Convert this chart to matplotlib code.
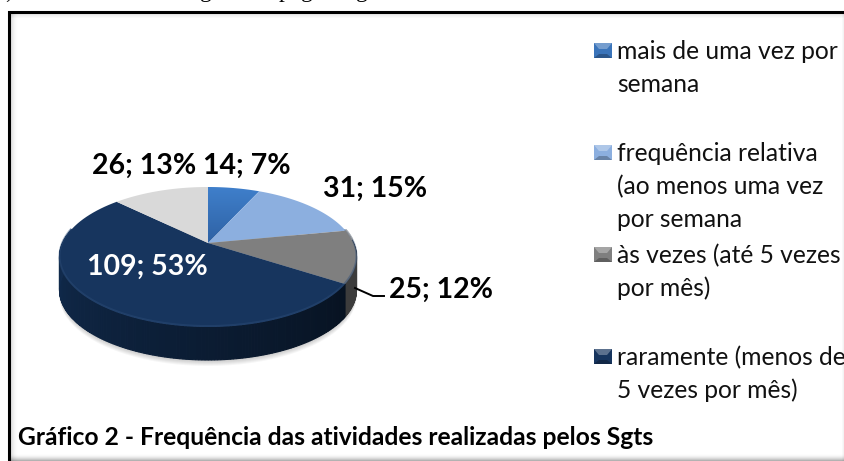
import numpy as np
import matplotlib
matplotlib.use('Agg')
import matplotlib.pyplot as plt
from matplotlib.patches import Rectangle, Polygon

plt.rcParams['font.family'] = ['Lato', 'DejaVu Sans']

categories = [['mais de uma vez por', 'semana'],
              ['frequência relativa', '(ao menos uma vez', 'por semana'],
              ['às vezes (até 5 vezes', 'por mês)'],
              ['raramente (menos de', '5 vezes por mês)']]
counts = [14, 31, 25, 109, 26]
percents = [7, 15, 12, 53, 13]
top_colors = ['#3a74ba', '#8cafdf', '#7f7f7f', '#17355e', '#d9d9d9']
wall_colors = ['#2a5488', '#64809f', '#3c3c3c', '#10294a', '#9a9a9a']
title = 'Gráfico 2 - Frequência das atividades realizadas pelos Sgts'

cx, cy = 208, 243
R, H, k = 145.5, 67.2, 0.2
depth = 33

def project(theta):
    # theta clockwise from 12 o'clock, in degrees
    t = np.radians(theta)
    u, v = np.sin(t), np.cos(t)
    s = 1 / (1 + k * v)
    return cx + R * u * s, cy - H * v * s

fig = plt.figure(figsize=(8.45, 4.61), dpi=100)
ax = fig.add_axes([0, 0, 1, 1])
ax.axis('off')

# frame + shadows
for i in range(8):
    ax.add_patch(Rectangle((10 + i, 14), 1, 447, color='k', alpha=0.16 * (1 - i / 8) ** 2, lw=0))
for i in range(4):
    ax.add_patch(Rectangle((10, 14 + i), 835, 1, color='k', alpha=0.08 * (1 - i / 4), lw=0))
for i in range(7):
    ax.add_patch(Rectangle((10, 460 - i), 835, 1, color='k', alpha=0.3 * (1 - i / 7) ** 2, lw=0))
for i in range(3):
    ax.add_patch(Rectangle((844 - i, 14), 1, 447, color='k', alpha=0.07 * (1 - i / 3), lw=0))
ax.plot([9, 9, 845], [461, 12.5, 12.5], color='k', lw=2.2, solid_joinstyle='miter')

# bits of the page text above the frame
for x, s in [(5, ','), (200, 'g'), (279, 'p'), (301, 'g'), (356, 'g')]:
    ax.text(x, -2.5, s, family='Liberation Serif', fontsize=17, color='k', va='baseline', ha='left')

edges = np.concatenate([[0], np.cumsum(counts)]) * 360.0 / sum(counts)

# soft shadow under the pie
th = np.linspace(0, 360, 200)
px, py = project(th)
for i in range(6):
    ax.fill(px, py + depth + 1 + i, color='k', alpha=0.035, lw=0, zorder=1)

# side wall, short strips so it can get darker from left to right
for i in range(len(counts)):
    lo, hi = max(edges[i], 78), min(edges[i + 1], 282)
    if hi <= lo:
        continue
    base = np.array(matplotlib.colors.to_rgb(wall_colors[i]))
    for a in np.arange(lo, hi, 1.0):
        x0, y0 = project(np.linspace(a, min(a + 1.0, hi), 3))
        xs = np.concatenate([x0, x0[::-1]])
        ys = np.concatenate([y0, y0[::-1] + depth])
        shade = 1.0
        if i == 3:
            shade = 1.05 - 0.6 * (270 - a) / 147
        col = np.clip(base * shade, 0, 1)
        ax.fill(xs, ys, fc=col, ec=col, lw=0.8, zorder=2)

# top face
for i in range(len(counts)):
    x0, y0 = project(np.linspace(edges[i], edges[i + 1], 80))
    xs = np.concatenate([[cx], x0])
    ys = np.concatenate([[cy], y0])
    if i == 0:
        # first slice has a gradient
        poly = Polygon(np.column_stack([xs, ys]), closed=True, fc='none', ec='none', zorder=3)
        ax.add_patch(poly)
        grad = np.linspace(0, 1, 64).reshape(-1, 1, 1)
        c0 = np.array(matplotlib.colors.to_rgb('#3f7fcb')).reshape(1, 1, 3)
        c1 = np.array(matplotlib.colors.to_rgb('#2f62a4')).reshape(1, 1, 3)
        im = ax.imshow(c0 * (1 - grad) + c1 * grad, extent=[cx, cx + 70, cy, y0.min()],
                       aspect='auto', zorder=3, interpolation='bilinear')
        im.set_clip_path(poly)
    else:
        ax.fill(xs, ys, color=top_colors[i], lw=0, zorder=3)

# lighter rim on the front edge
for a0, a1, col, al in [(edges[2], 282, '#2d4d78', 0.45), (88, edges[2], '#a8a8a8', 0.7)]:
    xr, yr = project(np.linspace(a0, a1, 80))
    ax.plot(xr, yr - 1, color=col, lw=1.4, alpha=al, zorder=4, solid_capstyle='butt')

# data labels
lab = ['%d; %d%%' % (c, p) for c, p in zip(counts, percents)]
lab_pos = [(203, 174), (323, 197), (389, 298), (87, 275), (92, 174)]
for i, s in enumerate(lab):
    ax.text(lab_pos[i][0], lab_pos[i][1], s, fontsize=20.5, fontweight='bold', va='baseline',
            color='white' if i == 3 else 'k', zorder=6)
ax.plot([355, 373, 384], [288, 296, 296], color='k', lw=1.4, zorder=5)

# legend
leg_y = [59, 161, 263, 365]
for i in range(4):
    y = leg_y[i]
    ax.add_patch(Rectangle((594, y - 16), 18, 15, color=top_colors[i], lw=0))
    ax.add_patch(Polygon([(594, y - 16), (612, y - 16), (607, y - 10), (599, y - 10)], closed=True,
                         color='w', alpha=0.3, lw=0))
    ax.add_patch(Polygon([(594, y - 1), (612, y - 1), (607, y - 5), (599, y - 5)], closed=True,
                         color='k', alpha=0.25, lw=0))
    for j, line in enumerate(categories[i]):
        ax.text(617, y + j * 33, line, fontsize=17.7, color='#111111', va='baseline', ha='left')

ax.text(18, 444.5, title, fontsize=17.7, fontweight='bold', color='k', va='baseline')

ax.set_xlim(0, 845)
ax.set_ylim(461, 0)
fig.savefig('out.png', dpi=100)
